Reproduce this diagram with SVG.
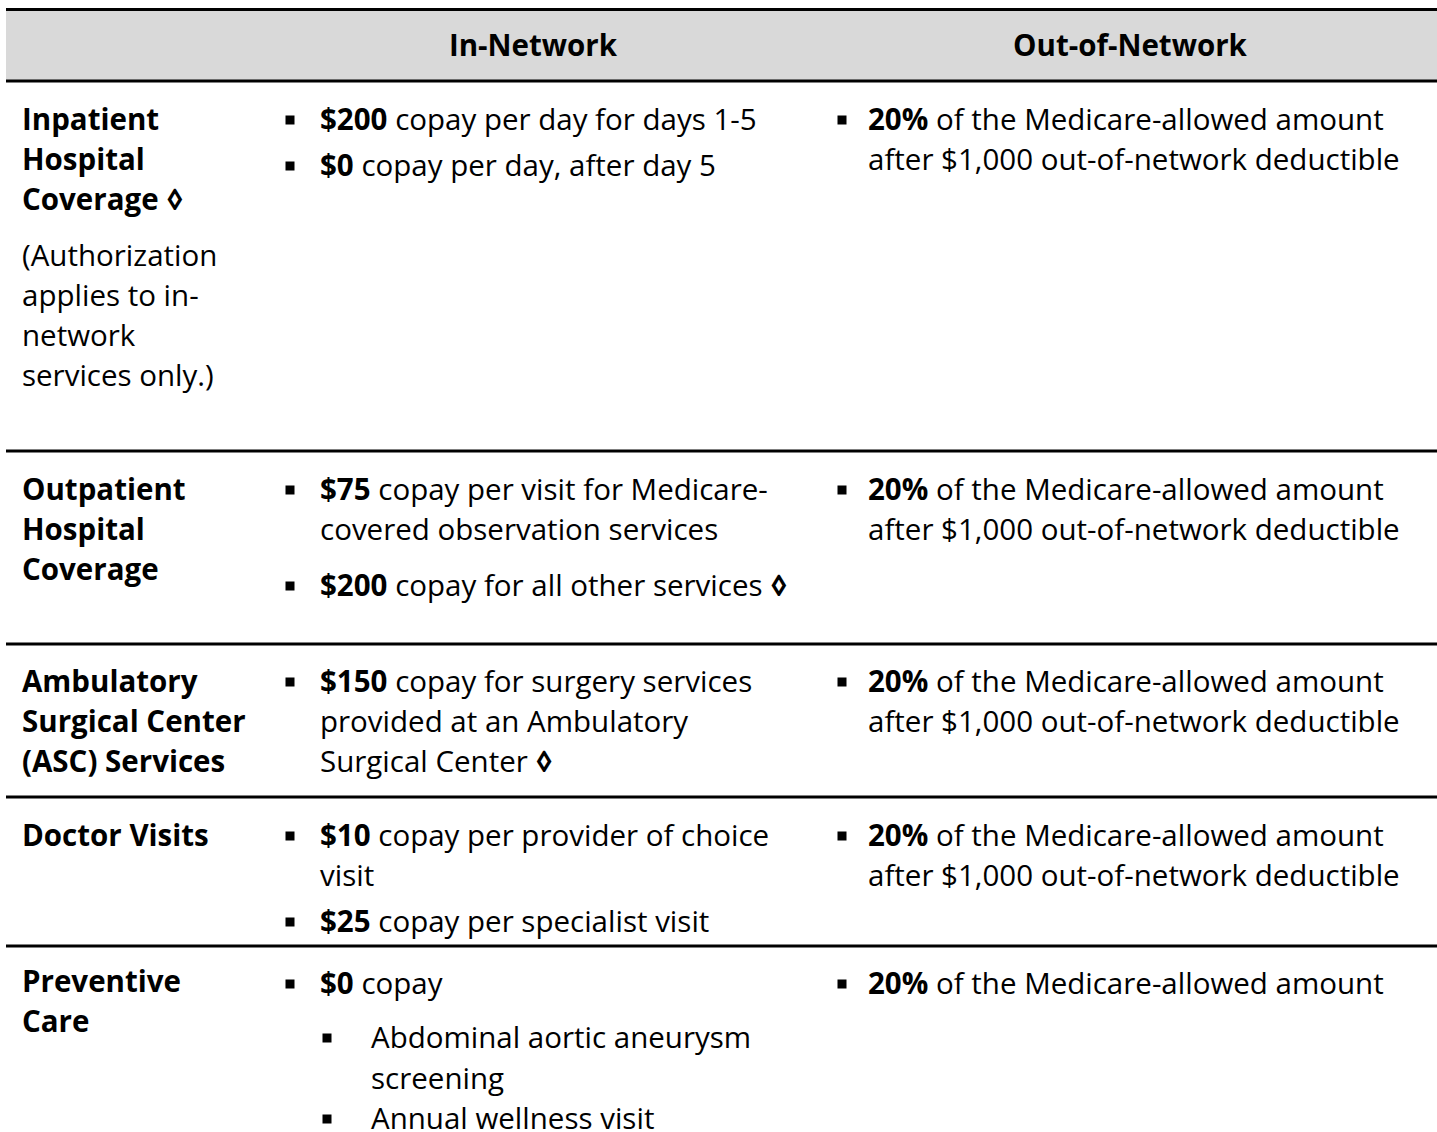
<svg xmlns="http://www.w3.org/2000/svg" width="1437" height="1132" viewBox="0 0 1437 1132">
<style>
text{font-family:"Open Sans","Noto Sans","Liberation Sans",sans-serif;font-size:29.5px;fill:#000}
.b{font-weight:bold}
.h{font-weight:bold;text-anchor:middle}
.rule{stroke:#000;stroke-width:3}
.bul{fill:#000}
</style>
<defs>
<rect id="sq" x="-4.5" y="-4.5" width="9" height="9" class="bul"/>
</defs>
<rect x="6" y="10" width="1431" height="71" fill="#d9d9d9"/>
<g id="lines">
<line class="rule" x1="6" y1="9.5" x2="1437" y2="9.5"/>
<line class="rule" x1="6" y1="81" x2="1437" y2="81"/>
<line class="rule" x1="6" y1="451" x2="1437" y2="451"/>
<line class="rule" x1="6" y1="644" x2="1437" y2="644"/>
<line class="rule" x1="6" y1="797" x2="1437" y2="797"/>
<line class="rule" x1="6" y1="946" x2="1437" y2="946"/>
</g>
<g id="header">
<text class="h" x="533" y="56">In-Network</text>
<text class="h" x="1130" y="56">Out-of-Network</text>
</g>
<g id="row-inpatient">
<text class="b" x="22" y="130">Inpatient</text>
<text class="b" x="22" y="170">Hospital</text>
<text class="b" x="22" y="210">Coverage ◊</text>
<text x="22" y="266">(Authorization</text>
<text x="22" y="306">applies to in-</text>
<text x="22" y="346">network</text>
<text x="22" y="386">services only.)</text>
<use href="#sq" x="290" y="120"/>
<text x="320" y="130"><tspan class="b">$200</tspan> copay per day for days 1-5</text>
<use href="#sq" x="290" y="166"/>
<text x="320" y="176"><tspan class="b">$0</tspan> copay per day, after day 5</text>
<use href="#sq" x="842" y="120"/>
<text x="868" y="130"><tspan class="b">20%</tspan> of the Medicare-allowed amount</text>
<text x="868" y="170">after $1,000 out-of-network deductible</text>
</g>
<g id="row-outpatient">
<text class="b" x="22" y="500">Outpatient</text>
<text class="b" x="22" y="540">Hospital</text>
<text class="b" x="22" y="580">Coverage</text>
<use href="#sq" x="290" y="490"/>
<text x="320" y="500"><tspan class="b">$75</tspan> copay per visit for Medicare-</text>
<text x="320" y="540">covered observation services</text>
<use href="#sq" x="290" y="586"/>
<text x="320" y="596"><tspan class="b">$200</tspan> copay for all other services <tspan class="b">◊</tspan></text>
<use href="#sq" x="842" y="490"/>
<text x="868" y="500"><tspan class="b">20%</tspan> of the Medicare-allowed amount</text>
<text x="868" y="540">after $1,000 out-of-network deductible</text>
</g>
<g id="row-asc">
<text class="b" x="22" y="692">Ambulatory</text>
<text class="b" x="22" y="732">Surgical Center</text>
<text class="b" x="22" y="772">(ASC) Services</text>
<use href="#sq" x="290" y="682"/>
<text x="320" y="692"><tspan class="b">$150</tspan> copay for surgery services</text>
<text x="320" y="732">provided at an Ambulatory</text>
<text x="320" y="772">Surgical Center <tspan class="b">◊</tspan></text>
<use href="#sq" x="842" y="682"/>
<text x="868" y="692"><tspan class="b">20%</tspan> of the Medicare-allowed amount</text>
<text x="868" y="732">after $1,000 out-of-network deductible</text>
</g>
<g id="row-doctor">
<text class="b" x="22" y="846">Doctor Visits</text>
<use href="#sq" x="290" y="836"/>
<text x="320" y="846"><tspan class="b">$10</tspan> copay per provider of choice</text>
<text x="320" y="886">visit</text>
<use href="#sq" x="290" y="922"/>
<text x="320" y="932"><tspan class="b">$25</tspan> copay per specialist visit</text>
<use href="#sq" x="842" y="836"/>
<text x="868" y="846"><tspan class="b">20%</tspan> of the Medicare-allowed amount</text>
<text x="868" y="886">after $1,000 out-of-network deductible</text>
</g>
<g id="row-preventive">
<text class="b" x="22" y="992">Preventive</text>
<text class="b" x="22" y="1032">Care</text>
<use href="#sq" x="290" y="984"/>
<text x="320" y="994"><tspan class="b">$0</tspan> copay</text>
<use href="#sq" x="327" y="1038"/>
<text x="371" y="1048">Abdominal aortic aneurysm</text>
<text x="371" y="1089">screening</text>
<use href="#sq" x="327" y="1119"/>
<text x="371" y="1129">Annual wellness visit</text>
<use href="#sq" x="842" y="984"/>
<text x="868" y="994"><tspan class="b">20%</tspan> of the Medicare-allowed amount</text>
</g>
</svg>
